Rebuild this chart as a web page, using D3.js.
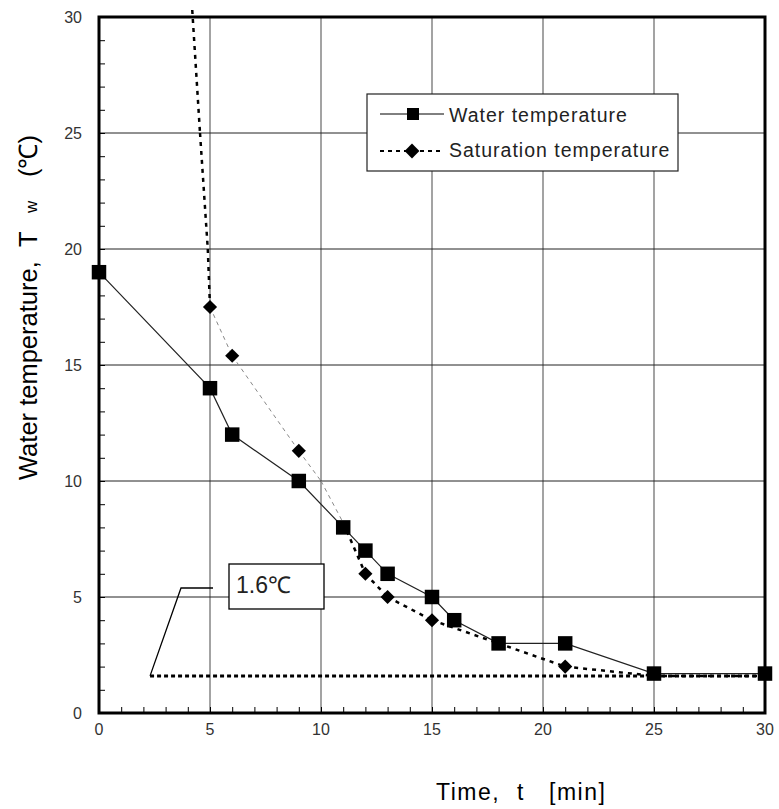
<!DOCTYPE html>
<html><head><meta charset="utf-8">
<script src="https://cdn.jsdelivr.net/npm/d3@7"></script>
<style>body{margin:0;background:#fff}svg{display:block}</style>
</head><body>
<svg id="c" width="779" height="809"></svg>
<script>
// Data
const waterX = [0, 5, 6, 9, 11, 12, 13, 15, 16, 18, 21, 25, 30];
const waterY = [19, 14, 12, 10, 8, 7, 6, 5, 4, 3, 3, 1.7, 1.7];
const satX = [4.2, 4.55, 4.9, 5, 6, 9, 10, 11, 12, 13, 15, 18, 21, 25, 30];
const satY = [30.3, 25, 20, 17.5, 15.4, 11.3, 10, 8.2, 6, 5, 4, 3, 2, 1.6, 1.6];
const satMarker = [0, 0, 0, 1, 1, 1, 0, 0, 1, 1, 1, 0, 1, 0, 0];
const satLight = [0, 0, 0, 1, 1, 1, 1, 0, 0, 0, 0, 0, 0, 0, 0]; // segment i -> i+1 light grey
const xTicks = [0, 5, 10, 15, 20, 25, 30];
const yTicks = [0, 5, 10, 15, 20, 25, 30];
const refLevel = 1.6, refStart = 2.3;
const refLabel = "1.6℃";
const seriesNames = ["Water temperature", "Saturation temperature"];

const svg = d3.select("#c");
const L = 99, R = 765, T = 17, B = 713;
const x = d3.scaleLinear().domain([0, 30]).range([L, R]);
const y = d3.scaleLinear().domain([0, 30]).range([B, T]);
const font = "Arial, 'Liberation Sans', sans-serif";

// grid
svg.append("g").selectAll("line").data(xTicks.slice(1, -1)).join("line")
  .attr("x1", d => x(d)).attr("x2", d => x(d)).attr("y1", T).attr("y2", B)
  .attr("stroke", "#666").attr("stroke-width", 1.2);
svg.append("g").selectAll("line").data(yTicks.slice(1, -1)).join("line")
  .attr("y1", d => y(d)).attr("y2", d => y(d)).attr("x1", L).attr("x2", R)
  .attr("stroke", "#222").attr("stroke-width", 1);

// axes with minor ticks inward
const minor = d3.range(0, 31, 1);
const xAx = d3.axisBottom(x).tickValues(minor).tickSize(-6).tickFormat("");
svg.append("g").attr("transform", `translate(0,${B})`).call(xAx)
  .call(g => g.select(".domain").remove())
  .call(g => g.selectAll("line").attr("stroke", "#000"));
const yAx = d3.axisLeft(y).tickValues(minor).tickSize(-6).tickFormat("");
svg.append("g").attr("transform", `translate(${L},0)`).call(yAx)
  .call(g => g.select(".domain").remove())
  .call(g => g.selectAll("line").attr("stroke", "#000"));

// tick labels
svg.append("g").selectAll("text").data(xTicks).join("text")
  .attr("x", d => x(d)).attr("y", B + 22).attr("text-anchor", "middle")
  .attr("font-family", font).attr("font-size", 16).attr("fill", "#333").text(d => d);
svg.append("g").selectAll("text").data(yTicks).join("text")
  .attr("x", L - 17).attr("y", d => y(d) + 6).attr("text-anchor", "end")
  .attr("font-family", font).attr("font-size", 16).attr("fill", "#333").text(d => d);

// frame
svg.append("rect").attr("x", L).attr("y", T).attr("width", R - L).attr("height", B - T)
  .attr("fill", "none").attr("stroke", "#000").attr("stroke-width", 3);

// reference line
svg.append("line").attr("x1", x(refStart)).attr("x2", x(30)).attr("y1", y(refLevel)).attr("y2", y(refLevel))
  .attr("stroke", "#000").attr("stroke-width", 3).attr("stroke-dasharray", "4,3");

// callout
const bx = 229, by = 564, bw = 95, bh = 45;
svg.append("polyline").attr("points", `${x(refStart)},${y(refLevel)} 181,588 213,588`)
  .attr("fill", "none").attr("stroke", "#000").attr("stroke-width", 1.3);
svg.append("rect").attr("x", bx).attr("y", by).attr("width", bw).attr("height", bh)
  .attr("fill", "#fff").attr("stroke", "#000").attr("stroke-width", 1.3);
svg.append("text").attr("x", bx + 7).attr("y", by + 29).attr("font-family", font)
  .attr("font-size", 23).attr("fill", "#222").text(refLabel);

// saturation line segments
const satPts = satX.map((d, i) => [d, satY[i]]);
for (let i = 0; i < satPts.length - 1; i++) {
  const light = satLight[i];
  svg.append("line")
    .attr("x1", x(satPts[i][0])).attr("y1", Math.max(y(satPts[i][1]), 8))
    .attr("x2", x(satPts[i + 1][0])).attr("y2", y(satPts[i + 1][1]))
    .attr("stroke", light ? "#888" : "#000")
    .attr("stroke-width", light ? 1 : 2.5)
    .attr("stroke-dasharray", light ? "4,4" : "4,5");
}
// water line
const line = d3.line().x(d => x(d[0])).y(d => y(d[1]));
const wPts = waterX.map((d, i) => [d, waterY[i]]);
svg.append("path").attr("d", line(wPts)).attr("fill", "none").attr("stroke", "#222").attr("stroke-width", 1.2);

// markers
svg.append("g").selectAll("path").data(satPts.filter((d, i) => satMarker[i])).join("path")
  .attr("transform", d => `translate(${x(d[0])},${y(d[1])}) rotate(45)`)
  .attr("d", d3.symbol(d3.symbolSquare, 100)).attr("fill", "#000");
svg.append("g").selectAll("path").data(wPts).join("path")
  .attr("transform", d => `translate(${x(d[0])},${y(d[1])})`)
  .attr("d", d3.symbol(d3.symbolSquare, 210)).attr("fill", "#000");

// legend
const lg = svg.append("g");
lg.append("rect").attr("x", 367).attr("y", 94).attr("width", 311).attr("height", 77)
  .attr("fill", "#fff").attr("stroke", "#222").attr("stroke-width", 1.2);
lg.append("line").attr("x1", 380).attr("x2", 444).attr("y1", 114).attr("y2", 114).attr("stroke", "#000");
lg.append("path").attr("transform", "translate(413,114)").attr("d", d3.symbol(d3.symbolSquare, 144)).attr("fill", "#000");
lg.append("line").attr("x1", 380).attr("x2", 444).attr("y1", 151).attr("y2", 151)
  .attr("stroke", "#000").attr("stroke-width", 2).attr("stroke-dasharray", "4,4");
lg.append("path").attr("transform", "translate(412,151) rotate(45)").attr("d", d3.symbol(d3.symbolSquare, 110)).attr("fill", "#000");
lg.selectAll("text.l").data(seriesNames).join("text").attr("class", "l")
  .attr("x", 449).attr("y", (d, i) => 122 + i * 35).attr("font-family", font)
  .attr("font-size", 19.5).attr("letter-spacing", 1).attr("fill", "#222").text(d => d);

// axis titles
const xt = svg.append("g").attr("font-family", font).attr("font-size", 23).attr("letter-spacing", 1.5).attr("fill", "#000");
xt.append("text").attr("x", 436).attr("y", 800).text("Time,");
xt.append("text").attr("x", 517).attr("y", 800).text("t");
xt.append("text").attr("x", 549).attr("y", 800).text("[min]");

const yt = svg.append("g").attr("transform", "translate(37,480) rotate(-90)")
  .attr("font-family", font).attr("fill", "#000");
yt.append("text").attr("x", 0).attr("y", 0).attr("font-size", 25.5).text("Water temperature,");
yt.append("text").attr("x", 233).attr("y", 0).attr("font-size", 25.5).text("T");
yt.append("text").attr("x", 267).attr("y", 0).attr("font-size", 17).text("w");
yt.append("text").attr("x", 303).attr("y", 0).attr("font-size", 25.5).text("(℃)");
</script>
</body></html>
